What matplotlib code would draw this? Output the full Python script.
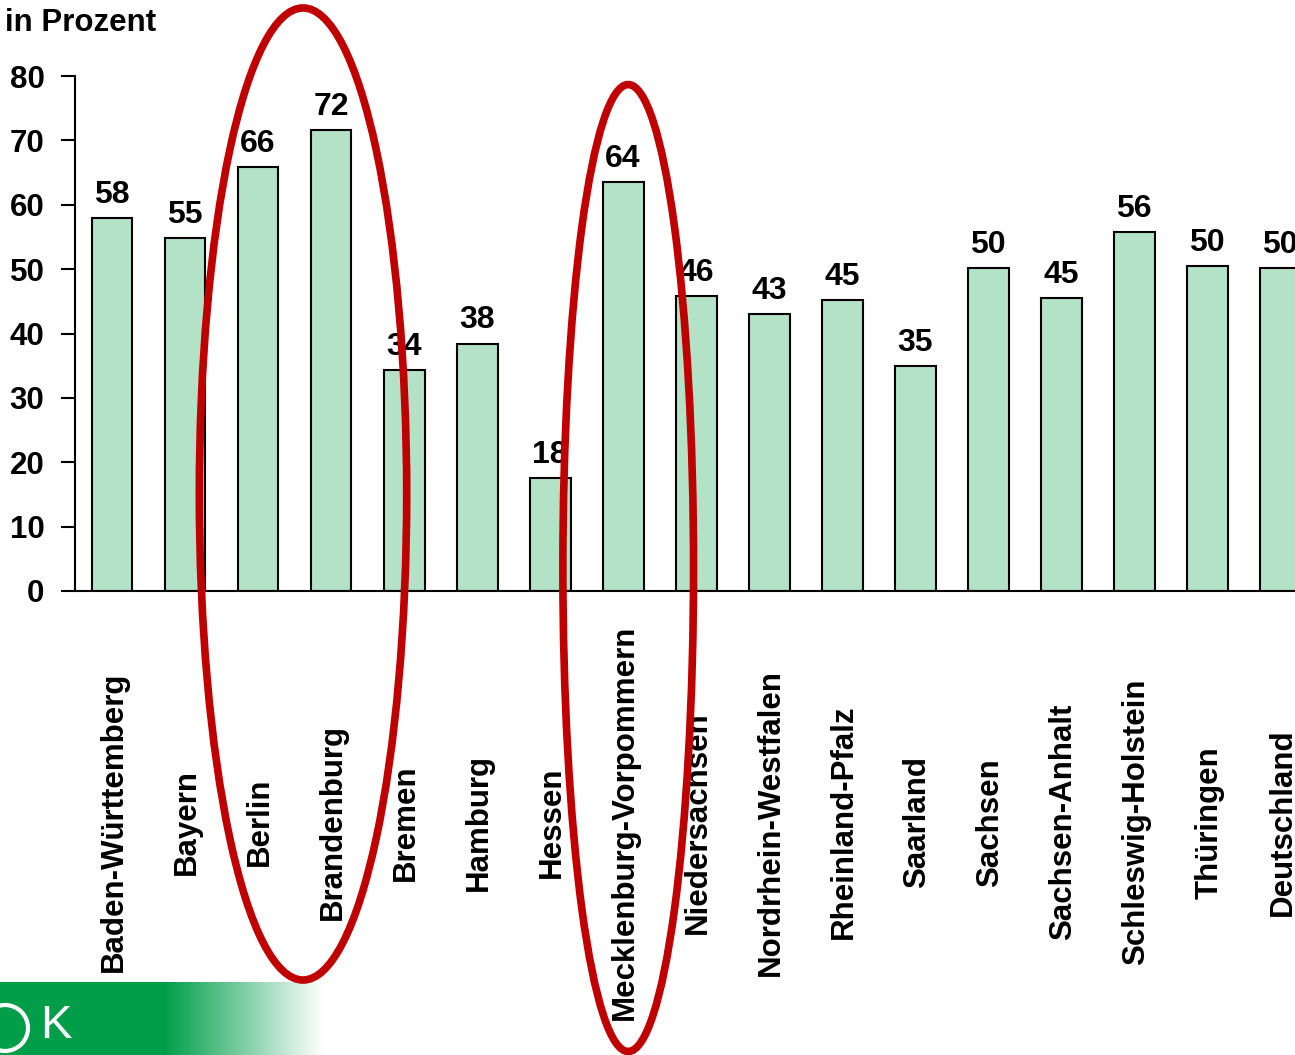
import matplotlib
matplotlib.use("Agg")
import matplotlib.pyplot as plt
import numpy as np
from matplotlib.patches import Ellipse
from matplotlib.transforms import blended_transform_factory

plt.rcParams['font.family'] = ['Liberation Sans', 'DejaVu Sans']

categories = ["Baden-Württemberg", "Bayern", "Berlin", "Brandenburg", "Bremen",
              "Hamburg", "Hessen", "Mecklenburg-Vorpommern", "Niedersachsen",
              "Nordrhein-Westfalen", "Rheinland-Pfalz", "Saarland", "Sachsen",
              "Sachsen-Anhalt", "Schleswig-Holstein", "Thüringen", "Deutschland"]
values = [57.9, 54.8, 65.8, 71.6, 34.3, 38.4, 17.5, 63.5, 45.8, 43.0, 45.2, 34.9,
          50.2, 45.5, 55.7, 50.5, 50.2]
labels = ["58", "55", "66", "72", "34", "38", "18", "64", "46", "43", "45", "35",
          "50", "45", "56", "50", "50"]
yticks = [0, 10, 20, 30, 40, 50, 60, 70, 80]

W, H = 1295, 1055
fig = plt.figure(figsize=(W / 100, H / 100), dpi=100)

# gradient logo band (drawn first, below)
band = fig.add_axes([0, 0, 330 / W, 73 / H])
grad = np.linspace(0, 1, 400)
alpha = np.clip((grad - 0.5) / 0.48, 0, 1)
green = np.array([0.0, 0.62, 0.29])
img = np.zeros((1, 400, 3))
for k in range(3):
    img[0, :, k] = green[k] * (1 - alpha) + 1.0 * alpha
band.imshow(img, aspect='auto', extent=[0, 1, 0, 1])
band.set_axis_off()
band.add_patch(Ellipse((5 / 330, 0.37), 46 / 330, 46 / 73, transform=band.transAxes,
                       fill=False, edgecolor='white', lw=3, clip_on=True))
band.text(40 / 330, 0.40, "K", color='white', fontsize=34, va='center', ha='left',
          transform=band.transAxes, fontweight='normal')

ax = fig.add_axes([75 / W, (H - 591) / H, 1222 / W, 515 / H])
x = np.arange(len(categories))
ax.bar(x, values, width=0.56, color='#b3e2c6', edgecolor='black', linewidth=1.5, zorder=2)
ax.set_xlim(-0.507, 16.23)
ax.set_ylim(0, 80)
ax.set_yticks(yticks)
ax.set_yticklabels([str(t) for t in yticks], fontsize=22.5, fontweight='bold')
ax.tick_params(axis='y', length=10, width=1.5, pad=12)
ax.set_xticks([])
for s in ['top', 'right']:
    ax.spines[s].set_visible(False)
for s in ['left', 'bottom']:
    ax.spines[s].set_linewidth(1.5)

for xi, v, lab in zip(x, values, labels):
    ax.annotate(lab, (xi, v), xytext=(0, 6), textcoords='offset points',
                ha='center', va='bottom', fontsize=23, fontweight='bold', zorder=3)

tr = blended_transform_factory(ax.transData, ax.transAxes)
for xi, c in zip(x, categories):
    ax.text(xi + 0.03, -0.449, c, rotation=90, ha='center', va='center',
            fontsize=22.5, fontweight='bold', transform=tr)

fig.text(5 / W, 1 - 23 / H, "in Prozent", fontsize=22.5, fontweight='bold',
         ha='left', va='center')

# red highlight ellipses
e1 = Ellipse((2.616, 15.07), 2.84, 151, fill=False, edgecolor='#c00000', lw=5.5,
             clip_on=False, zorder=5)
e2 = Ellipse((7.07, 3.57), 1.79, 150.2, fill=False, edgecolor='#c00000', lw=5.5,
             clip_on=False, zorder=5)
ax.add_patch(e1)
ax.add_patch(e2)

fig.savefig("out.png", dpi=100)
